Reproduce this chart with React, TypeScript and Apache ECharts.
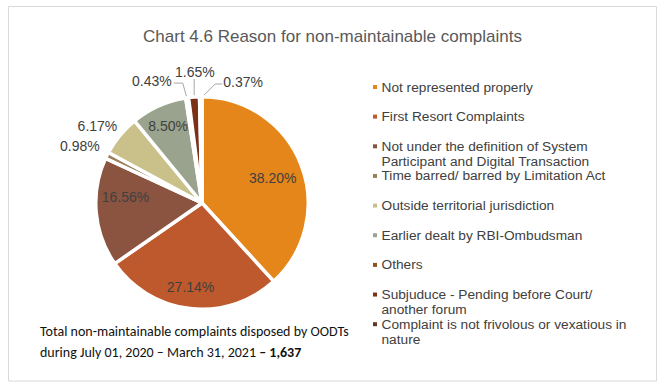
import React, { useEffect, useRef } from "react";
import * as echarts from "echarts";

const titleText = "Chart 4.6 Reason for non-maintainable complaints";
const categories = [
  "Not represented properly",
  "First Resort Complaints",
  "Not under the definition of System\nParticipant and Digital Transaction",
  "Time barred/ barred by Limitation Act",
  "Outside territorial jurisdiction",
  "Earlier dealt by RBI-Ombudsman",
  "Others",
  "Subjuduce - Pending before Court/\nanother forum",
  "Complaint is not frivolous or vexatious in\nnature",
];
const values = [38.2, 27.14, 16.56, 0.98, 6.17, 8.5, 0.43, 1.65, 0.37];
const footLine1 = "Total non-maintainable complaints disposed by OODTs";
const footLine2 = "during July 01, 2020 – March 31, 2021 ";
const footTotal = "– 1,637";

// styles
const colors = ["#E5861A", "#BE582D", "#8A5440", "#9C7F5C", "#C9C08A", "#9AA38D", "#8C5218", "#7A3217", "#5E3A26"];
const CX = 202;
const CY = 203;
const R = 104.5;
// label placement in polar terms: [radius px, angle nudge deg from slice middle]
const labelPolar: [number, number][] = [
  [75, -1.8], [84.5, -1.4], [76.7, -9.5], [134.7, 1.6], [130, 3], [84.4, -0.4], [131.8, 14.3], [131.2, -1.2], [127.8, -19.4],
];
const outsideIdx = [3, 4, 6, 7, 8];
const lineIdx = [6, 7, 8];

const total = values.reduce((a, b) => a + b, 0);
const midAngles: number[] = [];
{
  let cum = 0;
  values.forEach((v) => {
    const midFrac = (cum + v / 2) / total;
    midAngles.push(90 - midFrac * 360);
    cum += v;
  });
}
const polar = (r: number, deg: number) => {
  const a = (deg * Math.PI) / 180;
  return [CX + r * Math.cos(a), CY - r * Math.sin(a)];
};

export default function App() {
  const ref = useRef<HTMLDivElement>(null);
  useEffect(() => {
    if (!ref.current) return;
    const chart = echarts.init(ref.current, undefined, { renderer: "svg" });
    const font = "'Liberation Sans', Arial, sans-serif";
    const footFont = "Carlito, Lato, sans-serif";
    const legendTop = 87;
    const legendStep = 29.65;
    const legendGraphics: any[] = [];
    categories.forEach((c, i) => {
      const y = legendTop + i * legendStep;
      legendGraphics.push({
        type: "rect",
        shape: { x: 373, y: y - 2, width: 4, height: 4 },
        style: { fill: colors[i] },
      });
      legendGraphics.push({
        type: "text",
        x: 381.5,
        y: y - 7.5,
        style: {
          text: c,
          fill: "#404040",
          font: `13.7px ${font}`,
          lineHeight: 15,
          verticalAlign: "top",
          align: "left",
        },
      });
    });

    const option: any = {
      animation: false,
      backgroundColor: "#ffffff",
      title: {
        text: titleText,
        left: "center",
        top: 23,
        textStyle: { fontSize: 17, fontWeight: "normal", color: "#595959", fontFamily: font },
      },
      graphic: [
        {
          type: "rect",
          shape: { x: 8.5, y: 6.5, width: 648, height: 374.5 },
          style: { fill: "none", stroke: "#D9D9D9", lineWidth: 1 },
          silent: true,
        },
        ...legendGraphics,
        {
          type: "text",
          x: 40,
          y: 321,
          style: {
            text: `{n|${footLine1}}\n{n|${footLine2}}{b|${footTotal}}`,
            verticalAlign: "top",
            rich: {
              n: { fontFamily: footFont, fontSize: 14, lineHeight: 21, fill: "#111" },
              b: { fontFamily: footFont, fontSize: 14, lineHeight: 21, fontWeight: "bold", fill: "#111" },
            },
          },
        },
      ],
      series: [
        {
          type: "pie",
          center: [CX, CY],
          radius: [0, R + 1.75],
          startAngle: 90,
          clockwise: true,
          avoidLabelOverlap: false,
          itemStyle: { borderColor: "#ffffff", borderWidth: 3.5 },
          label: {
            show: true,
            fontSize: 14,
            color: "#404040",
            fontFamily: font,
            formatter: (p: any) => `${Number(p.value).toFixed(2)}%`,
          },
          labelLine: { show: false, lineStyle: { color: "#A6A6A6", width: 1 }, length: 10, length2: 10 },
          labelLayout: (params: any) => {
            const i = params.dataIndex;
            const [r, nudge] = labelPolar[i];
            const [x, y] = polar(r, midAngles[i] + nudge);
            const res: any = { x, y, align: "center", verticalAlign: "middle" };
            const w = params.labelRect.width;
            if (lineIdx.includes(i)) {
              const start = polar(R, midAngles[i]);
              let pts: number[][];
              if (i === 6) {
                const end = [x + w / 2 + 2, y + 2];
                pts = [start, [end[0] + 9, end[1]], end];
              } else if (i === 8) {
                const end = [x - w / 2 - 1, y + 2];
                pts = [start, [end[0] - 7, end[1]], end];
              } else {
                const end = [start[0], y + 7];
                pts = [start, [start[0], (start[1] + end[1]) / 2], end];
              }
              res.labelLinePoints = pts;
            }
            return res;
          },
          data: categories.map((c, i) => ({
            name: c,
            value: values[i],
            itemStyle: { color: colors[i] },
            label: { position: outsideIdx.includes(i) ? "outside" : "inside" },
            labelLine: { show: lineIdx.includes(i) },
          })),
        },
      ],
    };
    chart.setOption(option);
    return () => chart.dispose();
  }, []);
  return (
    <div
      ref={ref}
      style={{ position: "absolute", left: 0, top: 0, width: 665, height: 391 }}
    />
  );
}
